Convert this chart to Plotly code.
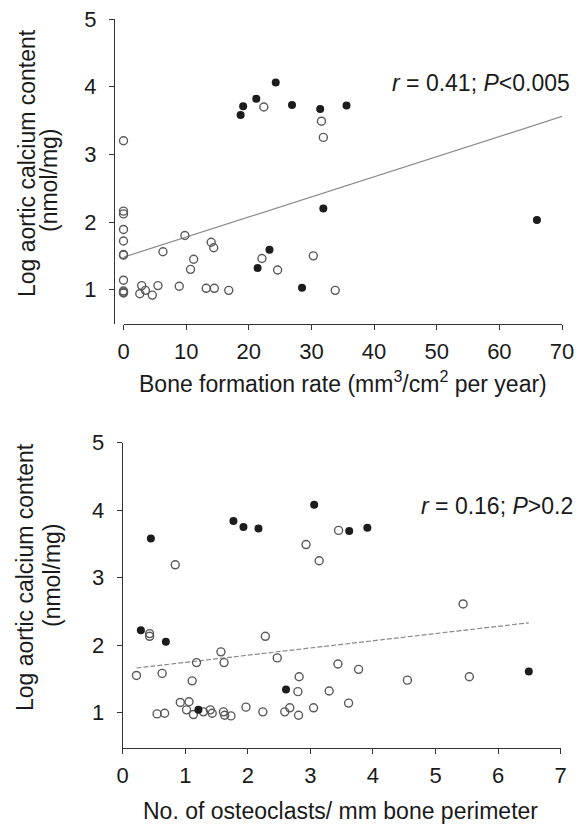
import plotly.graph_objects as go

W, H = 584, 829

# ---------- data: top panel (bone formation rate) ----------
top_open_x = [0, 0, 0, 0, 0, 0, 0, 0, 0, 0, 0, 2.9, 2.6, 3.5, 4.6, 5.5, 6.3, 8.9, 9.8, 10.7, 11.2,
              13.2, 14.0, 14.4, 14.5, 16.8, 22.1, 22.4, 24.6, 30.3, 31.6, 31.9, 33.8]
top_open_y = [3.20, 2.16, 2.12, 1.89, 1.72, 1.52, 1.51, 1.14, 0.98, 0.96, 0.95, 1.06, 0.94, 0.99,
              0.92, 1.06, 1.56, 1.05, 1.80, 1.30, 1.45, 1.02, 1.70, 1.62, 1.02, 0.99, 1.46, 3.70,
              1.29, 1.50, 3.49, 3.25, 0.99]
top_filled_x = [18.7, 19.1, 21.2, 24.3, 26.9, 31.4, 35.6, 31.9, 23.3, 21.4, 28.5, 66.0]
top_filled_y = [3.58, 3.71, 3.82, 4.06, 3.73, 3.67, 3.72, 2.20, 1.59, 1.32, 1.03, 2.03]
top_fit_x = [0, 70]
top_fit_y = [1.48, 3.56]
top_xticks = [0, 10, 20, 30, 40, 50, 60, 70]

# ---------- data: bottom panel (osteoclasts) ----------
bot_open_x = [0.22, 0.43, 0.43, 0.84, 0.63, 0.55, 0.67, 0.92, 1.06, 1.02, 1.13, 1.11, 1.18, 1.29,
              1.40, 1.43, 1.57, 1.62, 1.61, 1.63, 1.73, 1.97, 2.24, 2.28, 2.47, 2.59, 2.67, 2.82,
              2.80, 2.81, 2.93, 3.05, 3.14, 3.30, 3.45, 3.44, 3.61, 5.44, 3.77, 4.55, 5.54]
bot_open_y = [1.55, 2.17, 2.13, 3.19, 1.58, 0.98, 0.99, 1.15, 1.16, 1.04, 0.97, 1.47, 1.74, 1.01,
              1.04, 0.99, 1.90, 1.74, 1.01, 0.96, 0.95, 1.08, 1.01, 2.13, 1.81, 1.01, 1.07, 1.53,
              1.31, 0.96, 3.49, 1.07, 3.25, 1.32, 3.70, 1.72, 1.14, 2.61, 1.64, 1.48, 1.53]
bot_filled_x = [0.45, 0.29, 0.69, 1.77, 1.93, 2.17, 3.06, 3.62, 3.91, 2.61, 1.21, 6.49]
bot_filled_y = [3.58, 2.22, 2.05, 3.84, 3.75, 3.73, 4.08, 3.69, 3.74, 1.34, 1.04, 1.61]
bot_fit_x = [0.22, 6.49]
bot_fit_y = [1.66, 2.33]
bot_xticks = [0, 1, 2, 3, 4, 5, 6, 7]

y_ticks = [1, 2, 3, 4, 5]
y_title_1 = "Log aortic calcium content"
y_title_2 = "(nmol/mg)"
top_x_title = "Bone formation rate (mm<sup>3</sup>/cm<sup>2</sup> per year)"
bot_x_title = "No. of osteoclasts/ mm bone perimeter"
top_stat = "<i>r</i> = 0.41; <i>P</i>&lt;0.005"
bot_stat = "<i>r</i> = 0.16; <i>P</i>&gt;0.2"

FONT = "Liberation Sans, Arial, sans-serif"
TXT = "#1a1a1a"
AX = "#333333"
OPEN_C = "#5a5a5a"
FILL_C = "#1c1c1c"


def px(v):
    return v / W


def py(v):
    return 1 - v / H


fig = go.Figure()

open_marker = dict(symbol="circle-open", size=8, color=OPEN_C, line=dict(width=1.4, color=OPEN_C))
fill_marker = dict(symbol="circle", size=8, color=FILL_C, line=dict(width=0))

# top panel
fig.add_trace(go.Scatter(x=top_fit_x, y=top_fit_y, mode="lines", line=dict(color="#8a8a8a", width=1.2),
                         xaxis="x", yaxis="y", showlegend=False, hoverinfo="skip"))
fig.add_trace(go.Scatter(x=top_open_x, y=top_open_y, mode="markers", marker=open_marker,
                         xaxis="x", yaxis="y", showlegend=False, cliponaxis=False))
fig.add_trace(go.Scatter(x=top_filled_x, y=top_filled_y, mode="markers", marker=fill_marker,
                         xaxis="x", yaxis="y", showlegend=False, cliponaxis=False))
# bottom panel
fig.add_trace(go.Scatter(x=bot_fit_x, y=bot_fit_y, mode="lines",
                         line=dict(color="#8a8a8a", width=1.2, dash="5px,2px"),
                         xaxis="x2", yaxis="y2", showlegend=False, hoverinfo="skip"))
fig.add_trace(go.Scatter(x=bot_open_x, y=bot_open_y, mode="markers", marker=open_marker,
                         xaxis="x2", yaxis="y2", showlegend=False, cliponaxis=False))
fig.add_trace(go.Scatter(x=bot_filled_x, y=bot_filled_y, mode="markers", marker=fill_marker,
                         xaxis="x2", yaxis="y2", showlegend=False, cliponaxis=False))

common_axis = dict(showgrid=False, zeroline=False, showline=True, linecolor=AX, linewidth=1.3,
                   ticks="outside", ticklen=5, tickwidth=1.2, tickcolor=AX,
                   tickfont=dict(family=FONT, size=22, color=TXT), automargin=False)

fig.update_layout(
    width=W, height=H,
    margin=dict(l=0, r=0, t=0, b=0),
    paper_bgcolor="white", plot_bgcolor="white",
    xaxis=dict(common_axis, domain=[px(123.5), px(562)], range=[0, 70], anchor="y",
               tickmode="array", tickvals=top_xticks, ticklabelstandoff=3),
    yaxis=dict(common_axis, domain=[py(323.5), py(19)], range=[0.5, 5], anchor="free",
               position=px(114), tickmode="array", tickvals=y_ticks, ticklabelstandoff=8),
    xaxis2=dict(common_axis, domain=[px(122.7), px(560.7)], range=[0, 7], anchor="y2",
                tickmode="array", tickvals=bot_xticks, ticklabelstandoff=2),
    yaxis2=dict(common_axis, domain=[py(748.3), py(442.7)], range=[0.47, 5], anchor="x2",
                tickmode="array", tickvals=y_ticks, ticklabelstandoff=8),
)

ann_font = dict(family=FONT, size=23, color=TXT)
annotations = [
    # y titles top
    dict(text=y_title_1, x=px(27), y=py(163), textangle=-90, showarrow=False,
         xref="paper", yref="paper", xanchor="center", yanchor="middle", font=ann_font),
    dict(text=y_title_2, x=px(49), y=py(180), textangle=-90, showarrow=False,
         xref="paper", yref="paper", xanchor="center", yanchor="middle", font=ann_font),
    # y titles bottom
    dict(text=y_title_1, x=px(25), y=py(577), textangle=-90, showarrow=False,
         xref="paper", yref="paper", xanchor="center", yanchor="middle", font=ann_font),
    dict(text=y_title_2, x=px(52), y=py(575), textangle=-90, showarrow=False,
         xref="paper", yref="paper", xanchor="center", yanchor="middle", font=ann_font),
    # x titles
    dict(text=top_x_title, x=px(343), y=py(382), showarrow=False, xref="paper", yref="paper",
         xanchor="center", yanchor="middle", font=ann_font),
    dict(text=bot_x_title, x=px(340), y=py(811), showarrow=False, xref="paper", yref="paper",
         xanchor="center", yanchor="middle", font=ann_font),
    # stats
    dict(text=top_stat, x=px(572), y=py(83), showarrow=False, xref="paper", yref="paper",
         xanchor="right", yanchor="middle", font=ann_font),
    dict(text=bot_stat, x=px(575), y=py(506), showarrow=False, xref="paper", yref="paper",
         xanchor="right", yanchor="middle", font=ann_font),
]
fig.update_layout(annotations=annotations)

fig.write_html("out.html", config={"displayModeBar": False},
               post_script="document.body.style.margin='0';document.body.style.overflow='hidden';")
